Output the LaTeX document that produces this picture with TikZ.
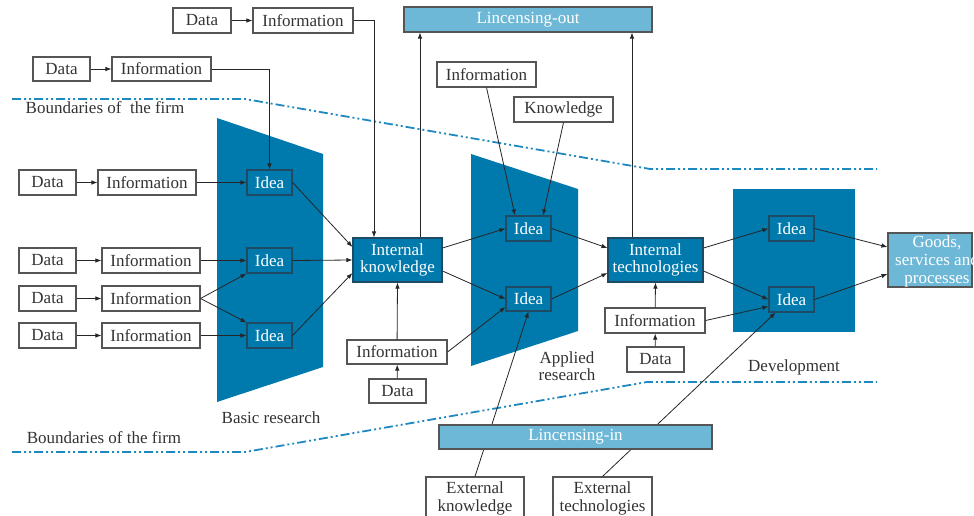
\documentclass[tikz,border=0pt]{standalone}
\usepackage{fontspec}
\setmainfont{Liberation Serif}
\usetikzlibrary{arrows.meta}
\definecolor{dblue}{HTML}{0079AC}
\definecolor{lblue}{HTML}{6DB8D7}
\definecolor{bline}{HTML}{1E88C0}
\definecolor{txt}{HTML}{333333}
\definecolor{bdr}{HTML}{555555}
\definecolor{dbdr}{HTML}{1F4A63}
\tikzset{
  fnt/.style={font=\fontsize{17}{17.5}\selectfont},
  wbox/.style={fnt, draw=bdr, line width=1.1pt, fill=white, text=txt, inner sep=0pt, minimum height=25pt, align=center},
  ideabox/.style={fnt, draw=dbdr, line width=1.1pt, fill=dblue, text=white, inner sep=0pt, minimum width=45pt, minimum height=25pt},
  dkbox/.style={fnt, draw=dbdr, line width=1.1pt, fill=dblue, text=white, inner sep=0pt, minimum height=44pt, align=center},
  lbbox/.style={fnt, draw=bdr, line width=1.1pt, fill=lblue, text=white, inner sep=0pt, minimum height=25pt, align=center},
  lbl/.style={fnt, text=txt, align=center, inner sep=0pt},
  conn/.style={draw=black!85, line width=0.8pt},
  arr/.style={conn, -{Latex[length=6pt,width=4.5pt]}},
  bound/.style={draw=bline, line width=1.8pt, dash pattern=on 9pt off 3pt on 2pt off 3pt on 2pt off 3pt},
}
\begin{document}
\begin{tikzpicture}[x=1pt,y=-1pt]
\useasboundingbox (0,0) rectangle (974,516);
% background shapes
\fill[dblue] (217,118) -- (323,154) -- (323,367) -- (217,402) -- cycle;
\fill[dblue] (471,154) -- (578,189) -- (578,331) -- (471,366) -- cycle;
\fill[dblue] (733,189) rectangle (855,332);
% boundaries
\draw[bound] (12,99) -- (245,99) -- (650,169) -- (877,169);
\draw[bound] (12,452) -- (245,452) -- (647,382) -- (877,382);
\node[lbl] (btop) at (105,108) {Boundaries of\ \ the firm};
\node[lbl] (bbot) at (104,438) {Boundaries of the firm};
\node[lbl] (basic) at (271,418) {Basic research};
\node[lbl] (applied) at (567,366) {Applied\\research};
\node[lbl] (devel) at (794,367) {Development};
% top inputs
\node[wbox, minimum width=58pt] (d0) at (202,20.5) {Data};
\node[wbox, minimum width=100pt] (i0) at (303,20.5) {Information};
\node[wbox, minimum width=57pt, minimum height=24pt] (d1) at (61.5,69) {Data};
\node[wbox, minimum width=99pt, minimum height=24pt] (i1) at (161.5,69) {Information};
% rows
\node[wbox, minimum width=57pt] (r1d) at (47.5,182.5) {Data};
\node[wbox, minimum width=98pt] (r1i) at (147,182.5) {Information};
\node[wbox, minimum width=57pt] (r2d) at (47.5,260.5) {Data};
\node[wbox, minimum width=98pt] (r2i) at (151,260.5) {Information};
\node[wbox, minimum width=57pt] (r3d) at (47.5,298.5) {Data};
\node[wbox, minimum width=98pt] (r3i) at (151,298.5) {Information};
\node[wbox, minimum width=57pt] (r4d) at (47.5,335.5) {Data};
\node[wbox, minimum width=98pt] (r4i) at (151,335.5) {Information};
% basic ideas
\node[ideabox] (b1) at (269.5,182.5) {Idea};
\node[ideabox] (b2) at (269.5,260.5) {Idea};
\node[ideabox] (b3) at (269.5,335.5) {Idea};
% internal knowledge
\node[dkbox, minimum width=89pt] (ik) at (397.5,260) {Internal\\knowledge};
\node[wbox, minimum width=100pt, minimum height=24pt] (ik_i) at (397,352) {Information};
\node[wbox, minimum width=57pt, minimum height=24pt] (ik_d) at (397.5,391) {Data};
% licensing out
\node[lbbox, minimum width=248pt] (lout) at (528,19.5) {Lincensing-out};
% applied
\node[wbox, minimum width=99pt] (a_i) at (486.5,74.5) {Information};
\node[wbox, minimum width=99pt] (a_k) at (563.5,109.5) {Knowledge};
\node[ideabox] (a1) at (528.5,228.5) {Idea};
\node[ideabox, minimum height=24pt] (a2) at (528.5,299) {Idea};
% internal technologies
\node[dkbox, minimum width=95pt] (it) at (655.5,260) {Internal\\technologies};
\node[wbox, minimum width=100pt] (it_i) at (655,320.5) {Information};
\node[wbox, minimum width=57pt] (it_d) at (655.5,359.5) {Data};
% development
\node[ideabox] (e1) at (791.5,228.5) {Idea};
\node[ideabox] (e2) at (791.5,299.5) {Idea};
% goods
\node[lbbox, minimum width=84pt, minimum height=54pt] (goods) at (930,260) {};
\node[fnt, text=white, align=center, inner sep=0pt, font=\fontsize{17}{18}\selectfont] (goodst) at (937,261) {Goods,\\services and\\processes};
% external
\node[wbox, minimum width=98pt, minimum height=43pt] (xk) at (475,498.5) {External\\knowledge};
\node[wbox, minimum width=99pt, minimum height=43pt] (xt) at (602.5,498.5) {External\\technologies};
\draw[arr] (xk.north) -- (a2.south);
\draw[arr] (xt.north) -- ([xshift=-16pt]e2.south);
\node[lbbox, minimum width=273pt, minimum height=24pt] (lin) at (575.5,437) {Lincensing-in};
% connectors
\draw[arr] (d0) -- (i0);
\draw[arr] (i0.east) -| ([xshift=-23.5pt]ik.north);
\draw[arr] (d1) -- (i1);
\draw[arr] (i1.east) -| (b1.north);
\draw[arr] (r1d) -- (r1i);
\draw[arr] (r2d) -- (r2i);
\draw[arr] (r3d) -- (r3i);
\draw[arr] (r4d) -- (r4i);
\draw[arr] (r1i) -- (b1);
\draw[arr] (r2i) -- (b2);
\draw[arr] (r4i) -- (b3);
\draw[arr] (r3i.east) -- (b2.south west);
\draw[arr] (r3i.east) -- (b3.north west);
\draw[arr] (b1.east) -- ([yshift=13pt]ik.west);
\draw[arr] (b2.east) -- (ik.west);
\draw[arr] (b3.east) -- ([yshift=-13pt]ik.west);
\draw[arr] ([xshift=22.5pt]ik.north) -- ([xshift=22.5pt]ik.north |- lout.south);
\draw[arr] (ik_d) -- (ik_i);
\draw[arr] (ik_i) -- (ik.south);
\draw[arr] (ik_i.east) -- ([yshift=-8pt]a2.west);
\draw[arr] ([yshift=12pt]ik.east) -- (a1.west);
\draw[arr] ([yshift=-11pt]ik.east) -- (a2.west);
\draw[arr] (a_i.south) -- ([xshift=-13.5pt]a1.north);
\draw[arr] (a_k.south) -- ([xshift=14.5pt]a1.north);
\draw[arr] (a1.east) -- ([yshift=12pt]it.west);
\draw[arr] (a2.east) -- ([yshift=-13pt]it.west);
\draw[arr] ([xshift=-23.5pt]it.north) -- ([xshift=-23.5pt]it.north |- lout.south);
\draw[arr] (it_d) -- (it_i);
\draw[arr] (it_i) -- (it.south);
\draw[arr] ([yshift=12pt]it.east) -- (e1.west);
\draw[arr] ([yshift=-11pt]it.east) -- (e2.west);
\draw[arr] (it_i.east) -- ([yshift=-7pt]e2.west);
\draw[arr] (e1.east) -- ([yshift=13pt]goods.west);
\draw[arr] (e2.east) -- ([yshift=-14pt]goods.west);
\end{tikzpicture}
\end{document}
